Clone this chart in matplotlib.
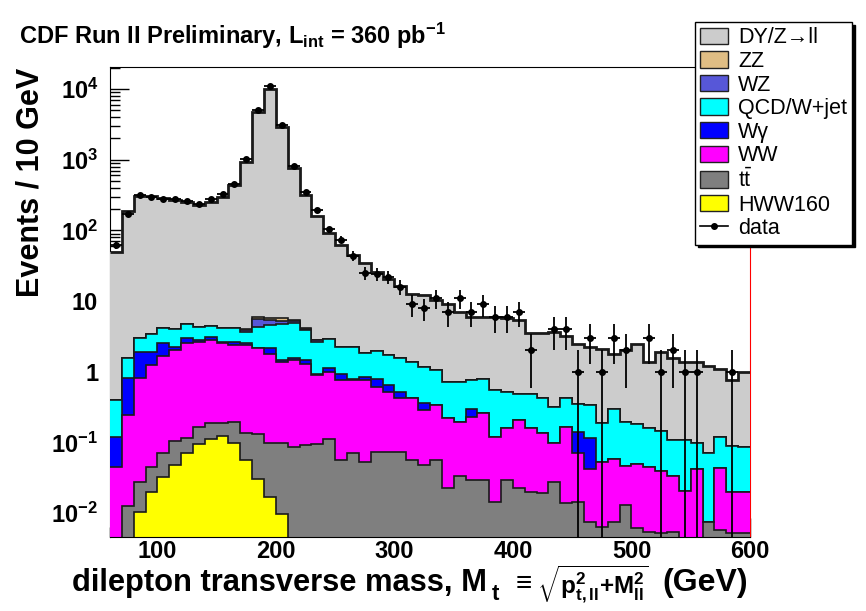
import numpy as np
import matplotlib
matplotlib.use('Agg')
import matplotlib.pyplot as plt
from matplotlib.patches import Patch
from matplotlib.lines import Line2D
from matplotlib.ticker import FixedLocator, FuncFormatter, NullFormatter

plt.rcParams['font.family'] = ['Liberation Sans', 'DejaVu Sans']
plt.rcParams['font.weight'] = 'bold'
plt.rcParams['axes.labelweight'] = 'bold'
plt.rcParams['mathtext.fontset'] = 'custom'
plt.rcParams['mathtext.rm'] = 'Liberation Sans:bold'
plt.rcParams['mathtext.it'] = 'Liberation Sans:bold'
plt.rcParams['mathtext.bf'] = 'Liberation Sans:bold'
plt.rcParams['mathtext.sf'] = 'Liberation Sans:weight=normal'
plt.rcParams['mathtext.default'] = 'rm'

# 10 GeV bins, 60 -> 600 GeV
edges = np.arange(60, 601, 10)

# stack heights (events / 10 GeV), each one includes everything below it
top_ttbar = [0.001, 0.0126, 0.0277, 0.0452, 0.0699, 0.105, 0.114, 0.166, 0.186, 0.186,
             0.196, 0.134, 0.131, 0.099, 0.099, 0.0867, 0.0916, 0.0937, 0.110, 0.056,
             0.0699, 0.053, 0.0736, 0.0736, 0.0736, 0.056, 0.0477, 0.056, 0.0224, 0.0338,
             0.0293, 0.0293, 0.0144, 0.0293, 0.0224, 0.020, 0.0193, 0.0277, 0.0137, 0.0144,
             0.0075, 0.0064, 0.0075, 0.0130, 0.0061, 0.0054, 0.0052, 0.0054, 0.001, 0.001,
             0.0075, 0.0057, 0.0052, 0.0052]
top_ww = [0.045, 0.243, 0.804, 1.24, 1.66, 2.02, 2.51, 2.65, 2.8, 2.56,
          2.38, 2.38, 2.14, 1.77, 1.38, 1.46, 1.28, 0.895, 1.0, 0.76,
          0.76, 0.76, 0.61, 0.52, 0.42, 0.42, 0.286, 0.34, 0.22, 0.196,
          0.23, 0.257, 0.12, 0.158, 0.207, 0.158, 0.134, 0.097, 0.166, 0.070,
          0.0415, 0.053, 0.0575, 0.0463, 0.05, 0.045, 0.0397, 0.0338, 0.0207, 0.0415,
          0.0075, 0.043, 0.02, 0.02]
top_wgamma = [0.12, 0.804, 1.91, 1.91, 2.51, 2.25, 2.96, 2.8, 3.05, 2.65,
              2.65, 2.51, 2.14, 2.14, 1.46, 1.54, 1.46, 0.93, 1.11, 0.93,
              0.78, 0.85, 0.8, 0.65, 0.52, 0.42, 0.36, 0.34, 0.22, 0.196,
              0.30, 0.257, 0.12, 0.158, 0.207, 0.158, 0.134, 0.097, 0.166, 0.141,
              0.114, 0.053, 0.0575, 0.0463, 0.05, 0.045, 0.0397, 0.0338, 0.0207, 0.0415,
              0.0075, 0.043, 0.02, 0.02]
top_qcd = [0.396, 1.57, 2.96, 3.37, 4.09, 3.96, 4.71, 4.23, 4.46, 4.09,
           4.09, 3.6, 4.3, 4.6, 4.8, 4.9, 3.9, 2.65, 2.86, 2.25,
           2.25, 1.82, 1.98, 1.75, 1.54, 1.38, 1.15, 1.05, 0.72, 0.72,
           0.76, 0.80, 0.55, 0.52, 0.49, 0.49, 0.42, 0.32, 0.43, 0.35,
           0.34, 0.186, 0.30, 0.196, 0.183, 0.162, 0.145, 0.108, 0.109, 0.098,
           0.070, 0.119, 0.09, 0.085]
# small WZ and ZZ yields sitting on top of QCD/W+jet
wz = np.zeros(54)
zz = np.zeros(54)
wz[11:18] = [0.35, 1.2, 0.8, 0.5, 0.3, 0.15, 0.15]
zz[11:18] = [0.05, 0.48, 0.4, 0.4, 0.2, 0.05, 0.05]
top_dy = [50, 189, 305, 305, 288, 267, 253, 227, 253, 298,
          437, 931, 4740, 10160, 2910, 751, 315, 159, 92, 62,
          44.6, 34, 26, 20.2, 16.3, 12.4, 12.1, 10.5, 9.0, 7.0,
          6.0, 6.0, 6.0, 5.7, 5.4, 3.55, 3.55, 3.67, 3.2, 2.45,
          2.2, 2.1, 1.76, 2.0, 2.45, 1.35, 1.9, 1.55, 1.37, 1.37,
          1.2, 1.1, 0.76, 1.0]

# HWW160 signal, drawn on its own (not stacked)
hww160 = [0, 0, 0.0103, 0.020, 0.0326, 0.0477, 0.0699, 0.0937, 0.110, 0.123,
          0.097, 0.056, 0.0303, 0.017, 0.0097] + [0] * 39

# observed events per bin
data = [62, 168, 315, 298, 282, 274, 262, 234, 274, 332,
        450, 1007, 5000, 10960, 3080, 809, 351, 193, 103, 74,
        44, 25, 24, 22, 16, 9, 8, 11, 7, 11,
        7, 9, 6, 6, 7, 2, 0, 4, 4, 1,
        3, 1, 3, 2, 0, 3, 1, 2, 1, 1,
        0, 0, 1, 0]

xticks = [100, 200, 300, 400, 500, 600]
yticks = [1e-2, 1e-1, 1, 10, 1e2, 1e3, 1e4]

top_wz = np.array(top_qcd) + wz
top_zz = top_wz + zz

ymin, ymax = 0.00458, 20460

fig = plt.figure(figsize=(8.66, 6.11), dpi=100)
ax = fig.add_axes([0.1270, 0.1211, 0.7390, 0.7692])
ax.set_yscale('log')
ax.set_xlim(60, 600)
ax.set_ylim(ymin, ymax)

layers = [
    (top_dy, '#cccccc', 2.0),
    (top_zz, '#dfbd84', 1.2),
    (top_wz, '#5757d8', 1.2),
    (top_qcd, '#00ffff', 1.2),
    (top_wgamma, '#0000ff', 1.2),
    (top_ww, '#ff00ff', 1.2),
    (top_ttbar, '#7f7f7f', 1.2),
]
z = 1
for vals, col, lw in layers:
    ax.stairs(vals, edges, baseline=1e-4, fill=True, color=col, lw=0, zorder=z)
    ax.stairs(vals, edges, baseline=None, color='#1a1a1a', lw=lw, zorder=z + 0.5)
    z += 1
ax.stairs(hww160, edges, baseline=1e-4, fill=True, color='#ffff00', lw=0, zorder=z)
ax.stairs(hww160, edges, baseline=None, color='#1a1a1a', lw=1.2, zorder=z + 0.5)
z += 1

# data with sqrt(N) errors; N = 0 bins are not drawn
centers = edges[:-1] + 5
n = np.array(data, dtype=float)
keep = n > 0
lo = n - np.clip(n - np.sqrt(n), ymin * 0.5, None)
hi = np.sqrt(n)
ax.errorbar(centers[keep], n[keep], xerr=5, yerr=[lo[keep], hi[keep]], fmt='o',
            color='black', ms=4, lw=1.3, capsize=0, zorder=z)

ax.set_axisbelow(True)
for s in ['left', 'top', 'right']:
    ax.spines[s].set_zorder(0.6)
ax.spines['right'].set_color('red')
ax.spines['bottom'].set_zorder(20)
ax.spines['bottom'].set_linewidth(0.8)

# only ticks inside the visible range
ax.xaxis.set_major_locator(FixedLocator(xticks))
ax.xaxis.set_minor_locator(FixedLocator(np.arange(60, 601, 20)))
ax.yaxis.set_major_locator(FixedLocator(yticks))
yminor = [m * 10.0 ** e for e in range(-3, 5) for m in range(2, 10)]
ax.yaxis.set_minor_locator(FixedLocator([v for v in yminor if ymin < v < ymax]))
ax.yaxis.set_minor_formatter(NullFormatter())


def ylab(v, pos):
    e = int(round(np.log10(v)))
    if e == 0:
        return '1'
    if e == 1:
        return '10'
    return r'$10^{%d}$' % e


ax.yaxis.set_major_formatter(FuncFormatter(ylab))
ax.tick_params(axis='both', which='major', direction='in', length=14, width=1, labelsize=17)
ax.tick_params(axis='both', which='minor', direction='in', length=7, width=1)
ax.tick_params(axis='y', which='major', pad=8.5)
ax.tick_params(axis='x', which='major', pad=2.5)

# axis titles placed like the ROOT original (y title pushed to the top)
fig.text(31 / 866, 1 - 68 / 611, 'Events / 10 GeV', fontsize=22, fontweight='bold',
         rotation=90, ha='center', va='top')
yb = 1 - 591 / 611
fig.text(72 / 866, yb, 'dilepton transverse mass, M',
         fontsize=22.2, fontweight='bold', ha='left', va='baseline')
fig.text(492 / 866, 1 - 600 / 611, 't', fontsize=16, fontweight='bold', ha='left', va='baseline')
fig.text(516 / 866, yb, '\u2261', fontsize=20, fontweight='normal', ha='left', va='baseline')
fig.text(537 / 866, 1 - 594 / 611, r'$\sqrt{p^2_{t,ll}{+}M^2_{ll}}$',
         fontsize=17.5, ha='left', va='baseline')
fig.text(662 / 866, yb, '(GeV)', fontsize=23, fontweight='bold', ha='left', va='baseline')

fig.text(19 / 866, 1 - 44 / 611, r'CDF Run II Preliminary, L$_{int}$ = 360 pb$^{-1}$',
         fontsize=17, fontweight='bold', ha='left', va='baseline')

handles = [
    Patch(facecolor='#cccccc', edgecolor='#222222', lw=1),
    Patch(facecolor='#dfbd84', edgecolor='#222222', lw=1),
    Patch(facecolor='#5757d8', edgecolor='#222222', lw=1),
    Patch(facecolor='#00ffff', edgecolor='#222222', lw=1),
    Patch(facecolor='#0000ff', edgecolor='#222222', lw=1),
    Patch(facecolor='#ff00ff', edgecolor='#222222', lw=1),
    Patch(facecolor='#7f7f7f', edgecolor='#222222', lw=1),
    Patch(facecolor='#ffff00', edgecolor='#222222', lw=1),
    Line2D([], [], color='black', marker='o', ms=4, lw=1.2),
]
labels = ['DY/Z\u2192ll', 'ZZ', 'WZ', 'QCD/W+jet', 'W\u03b3', 'WW', r'$\mathsf{t\bar{t}}$',
          'HWW160', 'data']
leg = fig.legend(handles, labels, loc='upper left', bbox_to_anchor=(695 / 866, 1 - 22 / 611),
                 borderaxespad=0, frameon=True, fancybox=False, shadow={'color': 'black', 'alpha': 1},
                 prop={'size': 15.5, 'weight': 'normal'}, labelspacing=0.12, handlelength=1.3,
                 handleheight=0.8, handletextpad=0.45, borderpad=0.25)
leg.get_frame().set_edgecolor('black')
leg.get_frame().set_linewidth(1)
leg.set_zorder(30)

fig.savefig('out.png', dpi=100)
